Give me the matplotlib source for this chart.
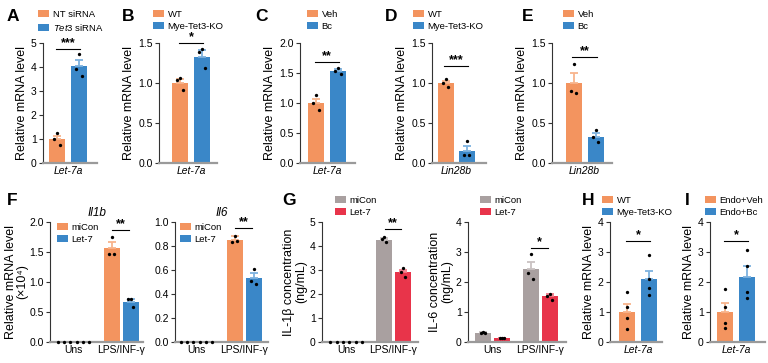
import matplotlib
matplotlib.use('Agg')
import matplotlib.pyplot as plt
from matplotlib.patches import Patch
import numpy as np

plt.rcParams['font.family'] = ['Liberation Sans', 'DejaVu Sans']
plt.rcParams['mathtext.fontset'] = 'custom'
plt.rcParams['mathtext.rm'] = 'Liberation Sans'
plt.rcParams['mathtext.it'] = 'Liberation Sans:italic'

W, H = 768, 363
ORANGE = '#F3945F'; BLUE = '#3A87C8'; GREY = '#A9A0A0'; RED = '#E8344A'
ERRC = {ORANGE: '#F8B48C', BLUE: '#7DB2DF', GREY: '#C9C2C2', RED: '#F27B89'}

# ---------------- data ----------------
a_labels = ['NT siRNA', r'$\it{Tet3}$ siRNA']
a_mean = [1.0, 4.03]; a_sem = [0.12, 0.27]
a_pts = [[1.24, 1.0, 0.76], [4.55, 3.9, 3.63]]

b_labels = ['WT', 'Mye-Tet3-KO']
b_mean = [1.0, 1.33]; b_sem = [0.05, 0.08]
b_pts = [[1.06, 1.04, 0.91], [1.42, 1.39, 1.19]]

c_labels = ['Veh', 'Bc']
c_mean = [1.0, 1.53]; c_sem = [0.07, 0.03]
c_pts = [[1.14, 1.0, 0.88], [1.58, 1.53, 1.49]]

d_labels = ['WT', 'Mye-Tet3-KO']
d_mean = [1.0, 0.15]; d_sem = [0.03, 0.06]
d_pts = [[1.05, 1.0, 0.95], [0.27, 0.1, 0.1]]

e_labels = ['Veh', 'Bc']
e_mean = [1.0, 0.33]; e_sem = [0.12, 0.04]
e_pts = [[1.24, 0.9, 0.87], [0.41, 0.33, 0.26]]

f_labels = ['miCon', 'Let-7']
f_groups = ['Uns', 'LPS/INF-γ']
il1b_mean = [0.0, 0.0, 1.56, 0.66]; il1b_sem = [0.0, 0.0, 0.1, 0.05]
il1b_pts = [[0, 0, 0], [0, 0, 0], [1.75, 1.46, 1.46], [0.71, 0.71, 0.59]]
il6_mean = [0.0, 0.0, 0.85, 0.53]; il6_sem = [0.0, 0.0, 0.03, 0.045]
il6_pts = [[0, 0, 0], [0, 0, 0], [0.88, 0.83, 0.84], [0.61, 0.51, 0.48]]

g_labels = ['miCon', 'Let-7']
il1b_conc_mean = [0.0, 0.0, 4.25, 2.9]; il1b_conc_sem = [0.0, 0.0, 0.07, 0.12]
il1b_conc_pts = [[0, 0, 0], [0, 0, 0], [4.37, 4.3, 4.18], [3.1, 2.93, 2.7]]
il6_conc_mean = [0.3, 0.14, 2.45, 1.53]; il6_conc_sem = [0.02, 0.01, 0.22, 0.07]
il6_conc_pts = [[0.33, 0.3, 0.3], [0.15, 0.14, 0.13], [2.93, 2.3, 2.1], [1.6, 1.55, 1.4]]

h_labels = ['WT', 'Mye-Tet3-KO']
h_mean = [1.0, 2.09]; h_sem = [0.26, 0.29]
h_pts = [[1.66, 1.16, 0.81, 0.42], [2.89, 2.1, 1.79, 1.56]]

i_labels = ['Endo+Veh', 'Endo+Bc']
i_mean = [1.0, 2.18]; i_sem = [0.29, 0.35]
i_pts = [[1.78, 1.17, 0.62, 0.46], [3.06, 2.53, 1.66, 1.47]]

# ---------------- helpers ----------------
fig = plt.figure(figsize=(W / 100, H / 100), dpi=100)

TICK_FS = 7.5; YLAB_FS = 9; LEG_FS = 6.8


def make_axes(left, right, top, bottom, c0, spacing):
    ax = fig.add_axes([left / W, 1 - bottom / H, (right - left) / W, (bottom - top) / H])
    ax.set_xlim((left - c0) / spacing, (right - c0) / spacing)
    for s in ('top', 'right'):
        ax.spines[s].set_visible(False)
    ax.spines['left'].set_color('#333333')
    ax.spines['left'].set_linewidth(0.8)
    ax.spines['bottom'].set_color('#9A9A9A')
    ax.spines['bottom'].set_linewidth(1.6)
    ax.tick_params(axis='y', length=3, width=0.8, pad=1.5, labelsize=TICK_FS, color='#333333')
    ax.tick_params(axis='x', length=0, pad=2.5, labelsize=TICK_FS)
    ax.patch.set_alpha(0)
    return ax


def draw_bars(ax, pos, means, sems, pts, colors, width):
    for x, m, s, p, c in zip(pos, means, sems, pts, colors):
        ax.bar(x, m, width=width, color=c, zorder=2)
        if s > 0:
            ax.errorbar(x, m, yerr=[[0], [s]], fmt='none', ecolor=ERRC[c],
                        elinewidth=1.3, capsize=3.2, capthick=1.3, zorder=3)
        n = len(p)
        if n == 3:
            offs = [0.0, -0.13, 0.13] if m > 0 else [-0.32, 0.0, 0.32]
        else:
            offs = [0.0] * n
        ax.plot(np.array(offs[:n]) + x, p, 'o', color='black', ms=2.4, zorder=4,
                clip_on=False, mec='none')


def sig(ax, x1, x2, y, txt):
    ax.plot([x1, x2], [y, y], color='black', lw=0.8, clip_on=False, zorder=5)
    ax.text((x1 + x2) / 2, y, txt, ha='center', va='bottom', fontsize=9,
            fontweight='bold', clip_on=False)


def legend(ax, labels, colors, x, y):
    handles = [Patch(facecolor=c, edgecolor='none') for c in colors]
    ax.legend(handles, labels, loc='upper left', bbox_to_anchor=(x / W, 1 - y / H),
              bbox_transform=fig.transFigure, frameon=False, fontsize=LEG_FS,
              handlelength=1.2, handleheight=0.75, handletextpad=0.35,
              labelspacing=0.3, borderpad=0, borderaxespad=0)


def letter(txt, x, y):
    fig.text(x / W, 1 - y / H, txt, fontsize=12.5, fontweight='bold', ha='left', va='top')


def two_panel(left, right, top, bottom, c0, labels, means, sems, pts, colors,
              ymax, ystep, fmt, xlab, sig_y, stars, leg_xy, spacing=22):
    ax = make_axes(left, right, top, bottom, c0, spacing)
    draw_bars(ax, [0, 1], means, sems, pts, colors, 16 / spacing)
    ax.set_ylim(0, ymax)
    ticks = np.arange(0, ymax + 1e-9, ystep)
    ax.set_yticks(ticks)
    ax.set_yticklabels([fmt.format(t) for t in ticks])
    ax.set_xticks([0.5])
    ax.set_xticklabels([xlab], fontstyle='italic')
    ax.set_ylabel('Relative mRNA level', fontsize=YLAB_FS, labelpad=2)
    sig(ax, -0.05, 1.05, sig_y, stars)
    legend(ax, labels, colors, *leg_xy)
    return ax


def group_panel(left, right, top, bottom, c0, means, sems, pts, colors,
                ymax, ystep, fmt, sig_y, stars, leg_labels, leg_xy, ylabel=None,
                title=None):
    spacing = 19
    ax = make_axes(left, right, top, bottom, c0, spacing)
    pos = [0, 1, 2.5, 3.5]
    draw_bars(ax, pos, means, sems, pts, colors, 16 / spacing)
    ax.set_ylim(0, ymax)
    ticks = np.arange(0, ymax + 1e-9, ystep)
    ax.set_yticks(ticks)
    ax.set_yticklabels([fmt.format(t) for t in ticks])
    ax.set_xticks([0.5, 3.0])
    ax.set_xticklabels(f_groups)
    if ylabel:
        ax.set_ylabel(ylabel, fontsize=YLAB_FS, labelpad=2, linespacing=1.05)
    if title:
        ax.set_title(title, fontsize=8.5, fontstyle='italic', pad=4)
    sig(ax, 2.55, 3.4, sig_y, stars)
    legend(ax, leg_labels, colors[2:], *leg_xy)
    return ax


# ---------------- top row ----------------
T, B_ = 43, 163
two_panel(43, 97, T, B_, 57, a_labels, a_mean, a_sem, a_pts, [ORANGE, BLUE],
          5, 1, '{:.0f}', 'Let-7a', 4.75, '***', (38, 10))
two_panel(159, 217, T, B_, 180, b_labels, b_mean, b_sem, b_pts, [ORANGE, BLUE],
          1.5, 0.5, '{:.1f}', 'Let-7a', 1.5, '*', (153, 10))
two_panel(300, 355, T, B_, 316, c_labels, c_mean, c_sem, c_pts, [ORANGE, BLUE],
          2.0, 0.5, '{:.1f}', 'Let-7a', 1.68, '**', (307, 10))
two_panel(432, 486, T, B_, 445.5, d_labels, d_mean, d_sem, d_pts, [ORANGE, BLUE],
          1.5, 0.5, '{:.1f}', 'Lin28b', 1.21, '***', (413, 10), spacing=21)
two_panel(552, 612, T, B_, 573.5, e_labels, e_mean, e_sem, e_pts, [ORANGE, BLUE],
          1.5, 0.5, '{:.1f}', 'Lin28b', 1.32, '**', (563, 10))

letter('A', 7, 9); letter('B', 122, 9); letter('C', 255, 9)
letter('D', 385, 9); letter('E', 522, 9)

# ---------------- bottom row ----------------
T2, B2 = 222, 342
fcol = [ORANGE, BLUE, ORANGE, BLUE]
gcol = [GREY, RED, GREY, RED]
group_panel(50, 143, T2, B2, 64, il1b_mean, il1b_sem, il1b_pts, fcol,
            2.0, 0.5, '{:.1f}', 1.87, '**', f_labels, (57, 223), title='Il1b')
# two-line y label of panel F, placed as rotated figure text
fig.text(5 / W, 1 - 282 / H, 'Relative mRNA level', rotation=90, fontsize=YLAB_FS,
         ha='left', va='center')
fig.text(16 / W, 1 - 282 / H, '(×10⁴)', rotation=90, fontsize=YLAB_FS,
         ha='left', va='center')
group_panel(175, 268, T2, B2, 187, il6_mean, il6_sem, il6_pts, fcol,
            1.0, 0.2, '{:.1f}', 0.95, '**', f_labels, (180, 223), title='Il6')
group_panel(322, 418, T2, B2, 336.5, il1b_conc_mean, il1b_conc_sem, il1b_conc_pts, gcol,
            5, 1, '{:.0f}', 4.7, '**', g_labels, (335, 196),
            ylabel='IL-1β concentration\n(ng/mL)')
group_panel(468, 566, T2, B2, 483, il6_conc_mean, il6_conc_sem, il6_conc_pts, gcol,
            4, 1, '{:.0f}', 3.13, '*', g_labels, (480, 196),
            ylabel='IL-6 concentration\n(ng/mL)')

two_panel(610, 662, T2, B2, 627, h_labels, h_mean, h_sem, h_pts, [ORANGE, BLUE],
          4, 1, '{:.0f}', 'Let-7a', 3.37, '*', (602, 196))
two_panel(710, 765, T2, B2, 725, i_labels, i_mean, i_sem, i_pts, [ORANGE, BLUE],
          4, 1, '{:.0f}', 'Let-7a', 3.37, '*', (705, 196))

letter('F', 7, 193); letter('G', 282, 193); letter('H', 582, 193); letter('I', 685, 193)

fig.savefig('out.png', dpi=100)
